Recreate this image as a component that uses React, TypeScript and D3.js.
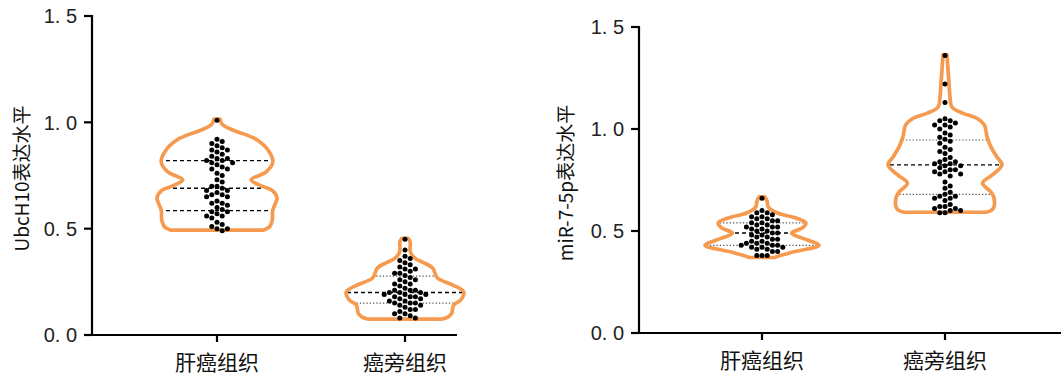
import React from "react";
import * as d3 from "d3";

const categories = ["肝癌组织", "癌旁组织"];
const yTicks = [0, 0.5, 1.0, 1.5];

// Panel A: UbcH10
const ubcTumor = [1.01, 0.92, 0.91, 0.90, 0.89, 0.88, 0.87, 0.87, 0.86, 0.85, 0.84, 0.83, 0.83, 0.82, 0.82, 0.81, 0.81, 0.80, 0.79, 0.78, 0.78, 0.76, 0.75, 0.73, 0.72, 0.70, 0.70, 0.69, 0.68, 0.68, 0.67, 0.66, 0.66, 0.65, 0.65, 0.63, 0.62, 0.62, 0.61, 0.60, 0.59, 0.58, 0.58, 0.57, 0.56, 0.56, 0.55, 0.53, 0.52, 0.51, 0.50, 0.50, 0.49];
const ubcAdj = [0.45, 0.40, 0.37, 0.36, 0.35, 0.34, 0.33, 0.32, 0.31, 0.31, 0.30, 0.29, 0.29, 0.28, 0.27, 0.26, 0.26, 0.25, 0.24, 0.24, 0.23, 0.22, 0.21, 0.21, 0.21, 0.20, 0.20, 0.20, 0.19, 0.19, 0.19, 0.18, 0.18, 0.18, 0.17, 0.17, 0.16, 0.16, 0.15, 0.15, 0.15, 0.14, 0.14, 0.13, 0.12, 0.12, 0.11, 0.10, 0.10, 0.09, 0.08, 0.08];
// quartiles [Q1, median, Q3]
const ubcTumorQ = [0.585, 0.69, 0.82];
const ubcAdjQ = [0.15, 0.2, 0.277];
// violin outline profiles [value, relative density]
const ubcTumorProfile = [[1.015, 0.05], [0.99, 0.09], [0.965, 0.25], [0.94, 0.5], [0.917, 0.67], [0.87, 0.85], [0.814, 0.93], [0.767, 0.82], [0.73, 0.57], [0.70, 0.75], [0.68, 0.92], [0.645, 1.0], [0.588, 0.93], [0.54, 0.92], [0.51, 0.88], [0.493, 0.77]];
const ubcAdjProfile = [[0.455, 0.05], [0.44, 0.085], [0.39, 0.09], [0.36, 0.17], [0.343, 0.29], [0.315, 0.46], [0.268, 0.54], [0.235, 0.8], [0.202, 0.98], [0.165, 0.93], [0.14, 0.81], [0.103, 0.78], [0.085, 0.72], [0.075, 0.62]];

// Panel B: miR-7-5p
const mirTumor = [0.66, 0.60, 0.59, 0.59, 0.58, 0.57, 0.57, 0.56, 0.56, 0.55, 0.55, 0.54, 0.54, 0.53, 0.53, 0.52, 0.52, 0.52, 0.51, 0.51, 0.50, 0.50, 0.49, 0.49, 0.48, 0.48, 0.47, 0.47, 0.46, 0.46, 0.45, 0.45, 0.44, 0.44, 0.44, 0.43, 0.43, 0.43, 0.42, 0.42, 0.42, 0.41, 0.41, 0.40, 0.40, 0.38, 0.38, 0.38];
const mirAdj = [1.36, 1.22, 1.13, 1.05, 1.04, 1.04, 1.03, 1.02, 1.02, 1.01, 1.00, 0.98, 0.97, 0.96, 0.95, 0.94, 0.93, 0.91, 0.90, 0.89, 0.88, 0.86, 0.85, 0.84, 0.84, 0.83, 0.83, 0.82, 0.82, 0.81, 0.80, 0.80, 0.79, 0.79, 0.78, 0.78, 0.77, 0.74, 0.72, 0.71, 0.69, 0.68, 0.67, 0.67, 0.66, 0.66, 0.65, 0.63, 0.62, 0.62, 0.61, 0.61, 0.60, 0.60, 0.59, 0.59];
const mirTumorQ = [0.43, 0.49, 0.54];
const mirAdjQ = [0.68, 0.824, 0.946];
const mirTumorProfile = [[0.668, 0.05], [0.645, 0.09], [0.618, 0.11], [0.588, 0.27], [0.564, 0.59], [0.539, 0.77], [0.515, 0.71], [0.49, 0.52], [0.456, 0.8], [0.43, 1.0], [0.397, 0.54], [0.38, 0.32], [0.37, 0.22]];
const mirAdjProfile = [[1.365, 0.035], [1.3, 0.05], [1.225, 0.07], [1.15, 0.09], [1.108, 0.12], [1.078, 0.31], [1.054, 0.55], [1.02, 0.69], [0.96, 0.74], [0.91, 0.81], [0.863, 0.91], [0.824, 1.0], [0.775, 0.83], [0.735, 0.66], [0.69, 0.81], [0.662, 0.86], [0.618, 0.86], [0.60, 0.81], [0.592, 0.72]];

const ORANGE = "#F59A4F";
const FONT = "Arial, 'Liberation Sans', Helvetica, sans-serif";
const CJK = "'Noto Sans CJK SC', Arial, sans-serif";
const R = 2.5;

function swarm(values: number[], y: (v: number) => number, r: number, step: number) {
  const sorted = [...values].sort((a, b) => b - a);
  const placed: { x: number; y: number }[] = [];
  const minD = 2 * r + 0.2;
  for (const v of sorted) {
    const cy = y(v);
    for (let k = 0; k < 40; k++) {
      const off = k === 0 ? 0 : (k % 2 === 1 ? 1 : -1) * Math.ceil(k / 2) * step;
      const ok = placed.every((p) => Math.hypot(p.x - off, p.y - cy) >= minD);
      if (ok) {
        placed.push({ x: off, y: cy });
        break;
      }
    }
  }
  return placed;
}

type PanelProps = {
  id: string;
  axisX: number;
  axisRight: number;
  yTop: number;
  yBottom: number;
  centers: number[];
  halfMax: number;
  title: string;
  groups: { values: number[]; q: number[]; profile: number[][]; allDashed: boolean }[];
  titleX: number;
};

function Panel(p: PanelProps) {
  const y = d3.scaleLinear().domain([0, 1.5]).range([p.yBottom, p.yTop]);
  const x = d3.scalePoint<string>().domain(categories).range(p.centers);
  const w = d3.scaleLinear().domain([0, 1]).range([0, p.halfMax]);
  const makeArea = (cx: number) =>
    d3
      .area<number[]>()
      .y((d) => y(d[0]))
      .x0((d) => cx - w(d[1]))
      .x1((d) => cx + w(d[1]))
      .curve(d3.curveCatmullRom.alpha(0.5));
  return (
    <g>
      <defs>
        {p.groups.map((g, i) => {
          const cx = x(categories[i]) as number;
          return (
            <clipPath id={`${p.id}-clip-${i}`} key={i}>
              <path d={makeArea(cx)(g.profile) || ""} />
            </clipPath>
          );
        })}
      </defs>
      {p.groups.map((g, i) => {
        const cx = x(categories[i]) as number;
        const dots = swarm(g.values, y, R, 5.2);
        return (
          <g key={i}>
            <g clipPath={`url(#${p.id}-clip-${i})`}>
              {g.q.map((qv, j) => {
                const isMed = j === 1;
                const dashed = isMed || g.allDashed;
                return (
                  <line
                    key={j}
                    x1={cx - p.halfMax - 5}
                    x2={cx + p.halfMax + 5}
                    y1={y(qv)}
                    y2={y(qv)}
                    stroke={dashed ? "#000" : "#555"}
                    strokeWidth={dashed ? 1.4 : 1.2}
                    strokeDasharray={dashed ? "4 3" : "1.3 2"}
                  />
                );
              })}
            </g>
            <path d={makeArea(cx)(g.profile) || ""} fill="none" stroke={ORANGE} strokeWidth={3.7} strokeLinejoin="round" />
            {dots.map((d, k) => (
              <circle key={k} cx={cx + d.x} cy={d.y} r={R} fill="#000" />
            ))}
          </g>
        );
      })}
      {/* y axis */}
      <line x1={p.axisX} x2={p.axisX} y1={p.yTop - 1} y2={p.yBottom + 1} stroke="#000" strokeWidth={2.2} />
      {yTicks.map((t) => (
        <g key={t}>
          <line x1={p.axisX - 8} x2={p.axisX} y1={y(t)} y2={y(t)} stroke="#000" strokeWidth={2.2} />
          <text
            x={p.axisX - 15}
            y={y(t)}
            dy="0.36em"
            textAnchor="end"
            fontFamily={FONT}
            fontSize={20}
            fill="#222"
          >
            {d3.format(".1f")(t).replace(".", ". ")}
          </text>
        </g>
      ))}
      {/* x axis */}
      <line x1={p.axisX - 1} x2={p.axisRight} y1={p.yBottom} y2={p.yBottom} stroke="#000" strokeWidth={2.2} />
      {categories.map((c) => (
        <g key={c}>
          <line x1={x(c)} x2={x(c)} y1={p.yBottom} y2={p.yBottom + 7} stroke="#000" strokeWidth={2.2} />
          <text x={x(c)} y={p.yBottom + 28} dy="0.35em" textAnchor="middle" fontFamily={CJK} fontSize={21} fill="#111">
            {c}
          </text>
        </g>
      ))}
      <text
        transform={`translate(${p.titleX},${(p.yTop + p.yBottom) / 2 + 3}) rotate(-90)`}
        textAnchor="middle"
        dy="0.35em"
        fontFamily={CJK}
        fontSize={19}
        fill="#111"
      >
        {p.title}
      </text>
    </g>
  );
}

export default function App() {
  return (
    <svg width={1063} height={376} style={{ position: "absolute", left: 0, top: 0, background: "#fff" }}>
      <Panel
        id="a"
        axisX={92}
        axisRight={457}
        yTop={16}
        yBottom={335}
        centers={[217, 405]}
        halfMax={60}
        title="UbcH10表达水平"
        titleX={22}
        groups={[
          { values: ubcTumor, q: ubcTumorQ, profile: ubcTumorProfile, allDashed: true },
          { values: ubcAdj, q: ubcAdjQ, profile: ubcAdjProfile, allDashed: false },
        ]}
      />
      <Panel
        id="b"
        axisX={639}
        axisRight={1061}
        yTop={27}
        yBottom={333}
        centers={[762, 945]}
        halfMax={57}
        title="miR-7-5p表达水平"
        titleX={566}
        groups={[
          { values: mirTumor, q: mirTumorQ, profile: mirTumorProfile, allDashed: false },
          { values: mirAdj, q: mirAdjQ, profile: mirAdjProfile, allDashed: false },
        ]}
      />
    </svg>
  );
}
